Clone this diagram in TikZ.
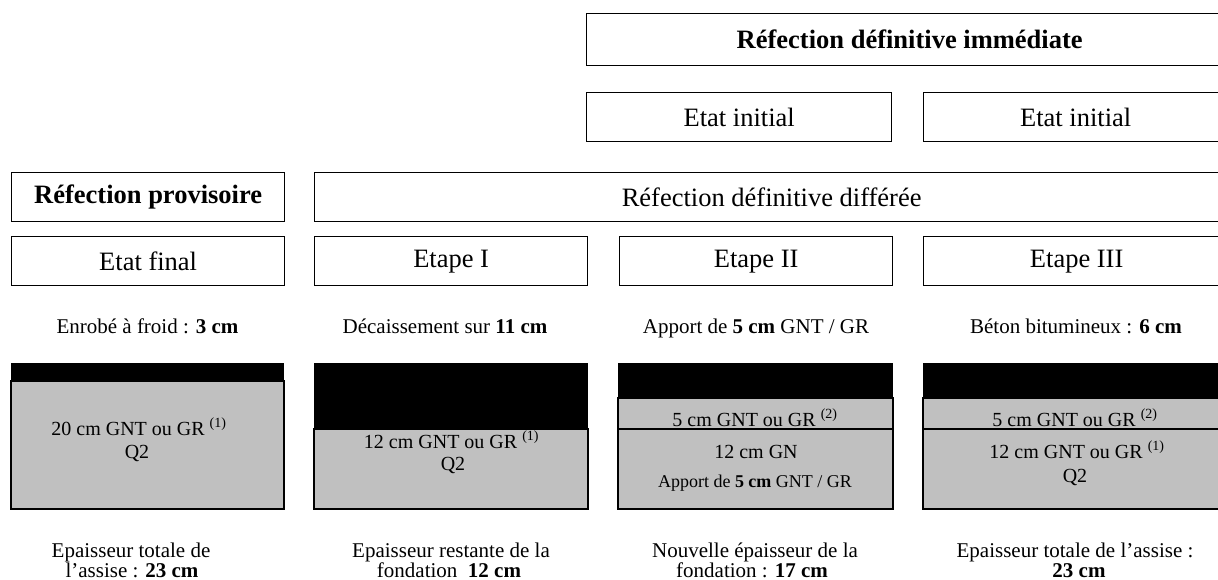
\documentclass[tikz,border=0pt]{standalone}
\usepackage{fontspec}
\setmainfont{Liberation Serif}
\definecolor{gravel}{HTML}{C0C0C0}

\begin{document}
\begin{tikzpicture}[x=1pt, y=-1pt,
    headbox/.style={draw=black, line width=1.3pt, inner sep=0pt, minimum height=49pt,
        anchor=north west, font=\fontsize{26.5}{30}\selectfont},
    note/.style={inner sep=0pt, anchor=base, font=\fontsize{21}{21}\selectfont},
    layertext/.style={inner sep=0pt, anchor=base, font=\fontsize{20}{20}\selectfont},
    smalltext/.style={inner sep=0pt, anchor=base, font=\fontsize{18}{18}\selectfont},
    layer/.style={draw=black, line width=1.2pt, fill=gravel}]

    % --- Page frame (the right-hand boxes run off the page) ---
    \useasboundingbox (0,0) rectangle (1218,580);
    \clip (0,0) rectangle (1218,580);

    % --- Top headers ---
    \node[headbox, minimum width=646pt, minimum height=52pt] (refimm) at (586,13)
        {\bfseries Réfection définitive immédiate};
    \node[headbox, minimum width=305pt] (init1) at (586,92) {Etat initial};
    \node[headbox, minimum width=304pt] (init2) at (923,92) {Etat initial};

    \node[headbox, minimum width=273pt] (refprov) at (11,172) {\bfseries Réfection provisoire};
    \node[headbox, minimum width=914pt] (refdiff) at (314,172) {Réfection définitive différée};

    % --- Stages ---
    \node[headbox, minimum width=273pt] (final) at (11,236) {Etat final};
    \node[headbox, minimum width=273pt] (stepI) at (314,236) {Etape I};
    \node[headbox, minimum width=273pt] (stepII) at (619,236) {Etape II};
    \node[headbox, minimum width=306pt] (stepIII) at (923,236) {Etape III};

    % --- What is done at each stage ---
    \node[note] (work1) at (147.5,333) {Enrobé à froid : \textbf{3 cm}};
    \node[note] (work2) at (445,333) {Décaissement sur \textbf{11 cm}};
    \node[note] (work3) at (756,333) {Apport de \textbf{5 cm} GNT / GR};
    \node[note] (work4) at (1076,333) {Béton bitumineux : \textbf{6 cm}};

    % --- Cross sections ---
    % black = bitumen or excavation, grey = granular base
    \fill (11,363) rectangle (284,381);
    \draw[layer] (11,381) rectangle (284,509);

    \fill (314,363) rectangle (588,429);
    \draw[layer] (314,429) rectangle (588,509);

    \fill (618,363) rectangle (893,398);
    \draw[layer] (618,398) rectangle (893,429);
    \draw[layer] (618,429) rectangle (893,509);

    \fill (923,363) rectangle (1230,398);
    \draw[layer] (923,398) rectangle (1230,429);
    \draw[layer] (923,429) rectangle (1230,509);

    % layer labels
    \node[layertext] (base1) at (139,435) {20 cm GNT ou GR \textsuperscript{(1)}};
    \node[layertext] (q1) at (137,458) {Q2};

    \node[layertext] (base2) at (451.5,448) {12 cm GNT ou GR \textsuperscript{(1)}};
    \node[layertext] (q2) at (453,470) {Q2};

    \node[layertext] (top3) at (755,426) {5 cm GNT ou GR \textsuperscript{(2)}};
    \node[layertext] (base3) at (756,458) {12 cm GN};
    \node[smalltext] (add3) at (755,487) {Apport de \textbf{5 cm} GNT / GR};

    \node[layertext] (top4) at (1075,426) {5 cm GNT ou GR \textsuperscript{(2)}};
    \node[layertext] (base4) at (1077,458) {12 cm GNT ou GR \textsuperscript{(1)}};
    \node[layertext] (q4) at (1075,482) {Q2};

    % --- Resulting thickness ---
    \node[note] (res1a) at (131,557) {Epaisseur totale de};
    \node[note] (res1b) at (132,577) {l’assise : \textbf{23 cm}};
    \node[note] (res2a) at (451,557) {Epaisseur restante de la};
    \node[note] (res2b) at (449,577) {fondation\ \ \textbf{12 cm}};
    \node[note] (res3a) at (755,557) {Nouvelle épaisseur de la};
    \node[note] (res3b) at (752,577) {fondation : \textbf{17 cm}};
    \node[note] (res4a) at (1075,557) {Epaisseur totale de l’assise :};
    \node[note] (res4b) at (1079,577) {\textbf{23 cm}};

\end{tikzpicture}
\end{document}
